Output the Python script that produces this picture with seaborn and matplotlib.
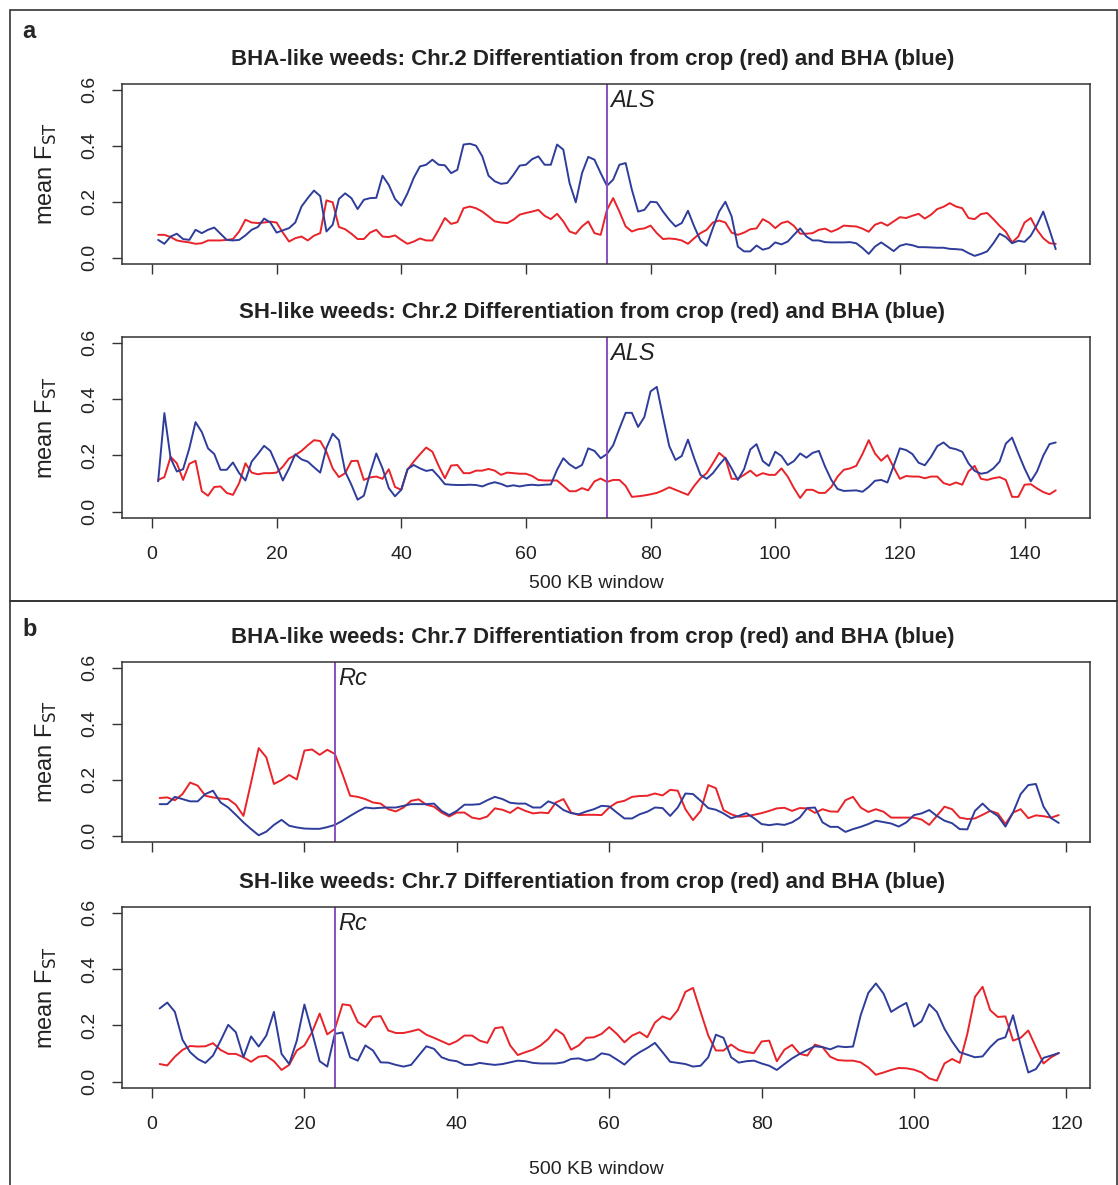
import matplotlib
matplotlib.use('Agg')
import matplotlib.pyplot as plt
import seaborn as sns
from matplotlib.patches import Rectangle

# ---- data ----
chr2_window = list(range(1, 146))
chr7_window = list(range(1, 120))

bha_chr2_red = [0.082, 0.082, 0.074, 0.062, 0.058, 0.055, 0.05, 0.052, 0.062, 0.062,
                0.062, 0.064, 0.067, 0.094, 0.136, 0.126, 0.124, 0.126, 0.129, 0.126,
                0.09, 0.058, 0.07, 0.076, 0.062, 0.079, 0.088, 0.205, 0.198, 0.11,
                0.102, 0.086, 0.067, 0.067, 0.09, 0.1, 0.076, 0.074, 0.08, 0.064,
                0.05, 0.058, 0.069, 0.062, 0.062, 0.1, 0.142, 0.121, 0.127,
                0.177, 0.183, 0.177, 0.165, 0.148, 0.13, 0.126, 0.124, 0.136, 0.154,
                0.16, 0.165, 0.171, 0.15, 0.138, 0.157, 0.13, 0.094, 0.086, 0.112,
                0.13, 0.088, 0.082, 0.171, 0.213, 0.165, 0.112, 0.094, 0.102, 0.105,
                0.115, 0.088, 0.067, 0.069, 0.067, 0.062, 0.05, 0.07, 0.088, 0.1,
                0.126, 0.133, 0.126, 0.09, 0.082, 0.09, 0.102, 0.105, 0.138, 0.126,
                0.106, 0.124, 0.13, 0.114, 0.086, 0.086, 0.088, 0.1, 0.104, 0.093,
                0.102, 0.115, 0.113, 0.112, 0.104, 0.093, 0.118, 0.126, 0.115, 0.13,
                0.145, 0.142, 0.15, 0.157, 0.14, 0.154, 0.174, 0.182, 0.195, 0.183,
                0.177, 0.142, 0.138, 0.156, 0.16, 0.138, 0.114, 0.093, 0.055, 0.076,
                0.126, 0.142, 0.1, 0.07, 0.052, 0.05]
bha_chr2_blue = [0.064, 0.05, 0.076, 0.086, 0.067, 0.064, 0.1, 0.088, 0.1, 0.108,
                 0.086, 0.064, 0.062, 0.064, 0.08, 0.1, 0.11, 0.14, 0.126, 0.09,
                 0.098, 0.106, 0.126, 0.183, 0.213, 0.24, 0.22, 0.094, 0.118, 0.21,
                 0.23, 0.213, 0.174, 0.207, 0.213, 0.214, 0.293, 0.26, 0.21, 0.186,
                 0.23, 0.285, 0.326, 0.332, 0.35, 0.332, 0.33, 0.302, 0.314,
                 0.404, 0.407, 0.4, 0.362, 0.293, 0.273, 0.264, 0.267, 0.296, 0.329,
                 0.332, 0.352, 0.362, 0.332, 0.332, 0.404, 0.386, 0.267, 0.198, 0.302,
                 0.36, 0.35, 0.302, 0.257, 0.279, 0.332, 0.338, 0.243, 0.165, 0.171,
                 0.2, 0.198, 0.165, 0.136, 0.112, 0.124, 0.168, 0.112, 0.062, 0.043,
                 0.106, 0.165, 0.2, 0.148, 0.04, 0.023, 0.023, 0.044, 0.029, 0.035,
                 0.055, 0.048, 0.058, 0.082, 0.105, 0.076, 0.062, 0.062, 0.056, 0.055,
                 0.055, 0.055, 0.056, 0.052, 0.035, 0.014, 0.04, 0.055, 0.04, 0.024,
                 0.043, 0.049, 0.045, 0.038, 0.038, 0.037, 0.036, 0.036, 0.032, 0.031,
                 0.029, 0.017, 0.007, 0.014, 0.023, 0.052, 0.086, 0.074, 0.052, 0.061,
                 0.057, 0.079, 0.118, 0.165, 0.1, 0.031]

sh_chr2_red = [0.113, 0.123, 0.195, 0.172, 0.113, 0.17, 0.181, 0.073, 0.057, 0.088,
               0.09, 0.067, 0.06, 0.102, 0.172, 0.139, 0.133, 0.137, 0.137, 0.139,
               0.16, 0.189, 0.201, 0.216, 0.236, 0.254, 0.251, 0.213, 0.154, 0.123,
               0.137, 0.18, 0.181, 0.113, 0.122, 0.125, 0.117, 0.151, 0.088, 0.078,
               0.149, 0.178, 0.204, 0.228, 0.213, 0.163, 0.119, 0.164, 0.166,
               0.137, 0.137, 0.146, 0.146, 0.152, 0.146, 0.131, 0.139, 0.137, 0.135,
               0.135, 0.127, 0.113, 0.111, 0.111, 0.111, 0.092, 0.073, 0.073, 0.084,
               0.076, 0.108, 0.118, 0.106, 0.113, 0.113, 0.092, 0.053, 0.055, 0.058,
               0.062, 0.067, 0.076, 0.087, 0.078, 0.069, 0.06, 0.092, 0.119, 0.137,
               0.172, 0.209, 0.19, 0.117, 0.117, 0.131, 0.146, 0.127, 0.137, 0.131,
               0.131, 0.154, 0.125, 0.084, 0.049, 0.078, 0.078, 0.067, 0.067, 0.088,
               0.125, 0.149, 0.154, 0.163, 0.205, 0.254, 0.207, 0.181, 0.201, 0.158,
               0.117, 0.127, 0.125, 0.125, 0.119, 0.125, 0.125, 0.102, 0.095, 0.104,
               0.096, 0.143, 0.163, 0.117, 0.113, 0.119, 0.123, 0.113, 0.053, 0.053,
               0.096, 0.098, 0.083, 0.07, 0.062, 0.076]
sh_chr2_blue = [0.108, 0.35, 0.19, 0.143, 0.151, 0.225, 0.318, 0.283, 0.225, 0.205,
                0.149, 0.149, 0.175, 0.137, 0.111, 0.178, 0.205, 0.234, 0.216, 0.166,
                0.111, 0.154, 0.204, 0.186, 0.178, 0.158, 0.139, 0.227, 0.277, 0.254,
                0.143, 0.096, 0.043, 0.057, 0.137, 0.207, 0.154, 0.084, 0.055, 0.078,
                0.151, 0.166, 0.154, 0.145, 0.149, 0.125, 0.098, 0.096, 0.095,
                0.095, 0.096, 0.095, 0.09, 0.099, 0.105, 0.099, 0.09, 0.094, 0.09,
                0.094, 0.096, 0.094, 0.096, 0.097, 0.149, 0.19, 0.168, 0.154, 0.166,
                0.225, 0.216, 0.19, 0.205, 0.236, 0.295, 0.351, 0.351, 0.301, 0.336,
                0.427, 0.443, 0.336, 0.233, 0.184, 0.198, 0.256, 0.19, 0.131, 0.117,
                0.137, 0.166, 0.192, 0.154, 0.113, 0.151, 0.221, 0.24, 0.18, 0.163,
                0.213, 0.198, 0.166, 0.18, 0.207, 0.192, 0.209, 0.216, 0.16, 0.113,
                0.081, 0.074, 0.075, 0.076, 0.071, 0.088, 0.11, 0.113, 0.104, 0.163,
                0.225, 0.219, 0.205, 0.174, 0.165, 0.195, 0.233, 0.246, 0.227, 0.222,
                0.213, 0.172, 0.145, 0.135, 0.139, 0.154, 0.178, 0.242, 0.263, 0.207,
                0.154, 0.108, 0.143, 0.199, 0.24, 0.246]

bha_chr7_red = [0.135, 0.137, 0.127, 0.149, 0.19, 0.179, 0.143, 0.137, 0.133, 0.131,
                0.111, 0.071, 0.19, 0.313, 0.28, 0.185, 0.199, 0.217, 0.201, 0.304,
                0.308, 0.289, 0.307, 0.292, 0.22, 0.143, 0.139, 0.131, 0.119, 0.115,
                0.095, 0.087, 0.101, 0.125, 0.13, 0.111, 0.104, 0.083, 0.069, 0.083,
                0.083, 0.065, 0.06, 0.069, 0.098, 0.093, 0.082, 0.101, 0.089, 0.08,
                0.083, 0.081, 0.119, 0.131, 0.083, 0.074, 0.075, 0.075, 0.074, 0.101,
                0.119, 0.125, 0.139, 0.142, 0.143, 0.151, 0.144, 0.164, 0.161, 0.095,
                0.056, 0.089, 0.181, 0.17, 0.092, 0.077, 0.068, 0.07, 0.075, 0.081, 0.089,
                0.098, 0.1, 0.089, 0.099, 0.098, 0.082, 0.095, 0.087, 0.086, 0.127,
                0.139, 0.101, 0.085, 0.095, 0.086, 0.065, 0.065, 0.065, 0.065, 0.058,
                0.039, 0.071, 0.104, 0.095, 0.065, 0.06, 0.062, 0.075, 0.089, 0.08,
                0.042, 0.083, 0.095, 0.063, 0.073, 0.07, 0.065, 0.074]
bha_chr7_blue = [0.113, 0.113, 0.139, 0.131, 0.123, 0.123, 0.149, 0.161, 0.119, 0.101,
                 0.075, 0.048, 0.024, 0.002, 0.015, 0.039, 0.057, 0.036, 0.03, 0.026,
                 0.025, 0.025, 0.031, 0.039, 0.054, 0.071, 0.087, 0.101, 0.098, 0.1,
                 0.101, 0.101, 0.107, 0.113, 0.113, 0.113, 0.115, 0.089, 0.074, 0.089,
                 0.111, 0.111, 0.113, 0.127, 0.139, 0.131, 0.118, 0.115, 0.115, 0.101,
                 0.101, 0.123, 0.113, 0.092, 0.081, 0.077, 0.087, 0.095, 0.107, 0.105,
                 0.083, 0.062, 0.062, 0.077, 0.086, 0.101, 0.099, 0.071, 0.101, 0.151,
                 0.149, 0.125, 0.099, 0.093, 0.08, 0.063, 0.071, 0.081, 0.063, 0.042, 0.038,
                 0.042, 0.039, 0.048, 0.065, 0.099, 0.101, 0.048, 0.032, 0.032, 0.014,
                 0.024, 0.032, 0.042, 0.054, 0.049, 0.044, 0.033, 0.048, 0.074, 0.08,
                 0.092, 0.071, 0.054, 0.045, 0.024, 0.023, 0.089, 0.115, 0.089, 0.071,
                 0.033, 0.083, 0.149, 0.181, 0.185, 0.104, 0.063, 0.046]

sh_chr7_red = [0.063, 0.058, 0.089, 0.113, 0.127, 0.125, 0.126, 0.137, 0.113, 0.099,
               0.099, 0.087, 0.071, 0.089, 0.092, 0.073, 0.042, 0.06, 0.111, 0.129,
               0.176, 0.242, 0.168, 0.188, 0.275, 0.271, 0.212, 0.194, 0.23, 0.233,
               0.182, 0.173, 0.173, 0.179, 0.186, 0.167, 0.156, 0.144, 0.132, 0.144,
               0.164, 0.164, 0.146, 0.138, 0.19, 0.194, 0.129, 0.095, 0.105, 0.114,
               0.129, 0.152, 0.186, 0.167, 0.114, 0.129, 0.156, 0.158, 0.17, 0.194,
               0.17, 0.14, 0.164, 0.176, 0.158, 0.21, 0.232, 0.221, 0.254, 0.319,
               0.333, 0.248, 0.164, 0.111, 0.111, 0.132, 0.113, 0.105, 0.102, 0.143, 0.146,
               0.073, 0.114, 0.131, 0.099, 0.093, 0.132, 0.123, 0.089, 0.077, 0.075,
               0.075, 0.069, 0.051, 0.025, 0.033, 0.042, 0.049, 0.048, 0.043, 0.033,
               0.012, 0.004, 0.065, 0.081, 0.067, 0.17, 0.301, 0.337, 0.254, 0.23,
               0.232, 0.146, 0.156, 0.182, 0.123, 0.065, 0.087, 0.102]
sh_chr7_blue = [0.26, 0.281, 0.248, 0.149, 0.105, 0.081, 0.067, 0.093, 0.146, 0.202,
                0.176, 0.087, 0.161, 0.125, 0.164, 0.248, 0.099, 0.063, 0.146, 0.274,
                0.176, 0.073, 0.054, 0.17, 0.175, 0.087, 0.075, 0.129, 0.111, 0.069,
                0.068, 0.06, 0.054, 0.06, 0.093, 0.126, 0.117, 0.087, 0.077, 0.073,
                0.06, 0.06, 0.067, 0.063, 0.06, 0.063, 0.069, 0.075, 0.073, 0.067,
                0.065, 0.065, 0.065, 0.069, 0.081, 0.083, 0.075, 0.081, 0.101, 0.096,
                0.079, 0.061, 0.087, 0.105, 0.12, 0.138, 0.105, 0.071, 0.067, 0.063,
                0.054, 0.057, 0.087, 0.167, 0.156, 0.087, 0.068, 0.073, 0.075, 0.065, 0.057,
                0.042, 0.063, 0.083, 0.099, 0.113, 0.126, 0.123, 0.115, 0.126, 0.123,
                0.125, 0.236, 0.315, 0.349, 0.313, 0.248, 0.265, 0.28, 0.196, 0.215,
                0.275, 0.248, 0.188, 0.143, 0.105, 0.096, 0.087, 0.09, 0.123, 0.149,
                0.158, 0.236, 0.129, 0.033, 0.045, 0.085, 0.093, 0.102]

chr2_ticks = [0, 20, 40, 60, 80, 100, 120, 140]
chr7_ticks = [0, 20, 40, 60, 80, 100, 120]
y_ticks = [0.0, 0.2, 0.4, 0.6]
y_ticklabels = ['0.0', '0.2', '0.4', '0.6']

titles = ['BHA-like weeds: Chr.2 Differentiation from crop (red) and BHA (blue)',
          'SH-like weeds: Chr.2 Differentiation from crop (red) and BHA (blue)',
          'BHA-like weeds: Chr.7 Differentiation from crop (red) and BHA (blue)',
          'SH-like weeds: Chr.7 Differentiation from crop (red) and BHA (blue)']

RED = '#e8232a'
BLUE = '#2f3d9a'
PURPLE = '#8a4fc0'

sns.set_style('white')
plt.rcParams['font.family'] = ['Liberation Sans', 'DejaVu Sans']

W, H = 1118, 1185
fig = plt.figure(figsize=(W / 100, H / 100), dpi=100)


def px_axes(left, top, right, bottom):
    return fig.add_axes([left / W, 1 - bottom / H, (right - left) / W, (bottom - top) / H])


def draw_panel(ax, x, red, blue, gene, gene_x, title, xticks, xlim, show_xlabels, xlabel_pad):
    sns.lineplot(x=x, y=red, ax=ax, color=RED, lw=1.4)
    sns.lineplot(x=x, y=blue, ax=ax, color=BLUE, lw=1.4)
    ax.axvline(gene_x, color=PURPLE, lw=1.4)
    ax.text(gene_x + (xlim[1] - xlim[0]) * 0.003, 0.603, gene, style='italic', fontsize=17,
            va='top', ha='left', color='#222222')
    ax.set_xlim(*xlim)
    ax.set_ylim(-0.022, 0.62)
    ax.set_xticks(xticks)
    ax.set_yticks(y_ticks)
    ax.set_yticklabels(y_ticklabels, rotation=90, va='center')
    ax.tick_params(axis='both', direction='out', length=7, width=1, colors='#333333',
                   labelsize=14, labelcolor='#222222', left=True, bottom=True)
    ax.tick_params(axis='x', pad=13)
    ax.tick_params(axis='y', pad=10)
    if not show_xlabels:
        ax.set_xticklabels([])
        ax.set_xlabel('')
    else:
        ax.set_xlabel('500 KB window', fontsize=14, labelpad=xlabel_pad, color='#222222')
        ax.xaxis.label.set_x(0.49)
    ax.set_ylabel(r'mean F$_{\mathrm{ST}}$', fontsize=17, labelpad=16, color='#222222')
    ax.set_title(title, fontsize=16, fontweight='bold', x=0.486, pad=14, color='#222222')
    for sp in ax.spines.values():
        sp.set_color('#333333')
        sp.set_linewidth(1.1)


ax1 = px_axes(122, 84, 1090, 264)
draw_panel(ax1, chr2_window, bha_chr2_red, bha_chr2_blue, 'ALS', 73, titles[0],
           chr2_ticks, (-4.8, 150.5), False, 0)
ax2 = px_axes(122, 337, 1090, 518)
draw_panel(ax2, chr2_window, sh_chr2_red, sh_chr2_blue, 'ALS', 73, titles[1],
           chr2_ticks, (-4.8, 150.5), True, 9)
ax3 = px_axes(122, 662, 1090, 842)
draw_panel(ax3, chr7_window, bha_chr7_red, bha_chr7_blue, 'Rc', 24, titles[2],
           chr7_ticks, (-3.94, 123.1), False, 0)
ax4 = px_axes(122, 907, 1090, 1088)
draw_panel(ax4, chr7_window, sh_chr7_red, sh_chr7_blue, 'Rc', 24, titles[3],
           chr7_ticks, (-3.94, 123.1), True, 20)

# outer frames and panel letters
fig.add_artist(Rectangle((10 / W, 1 - 601 / H), (W - 11) / W, 591 / H,
                         transform=fig.transFigure, fill=False, lw=1.2, ec='#333333'))
fig.add_artist(Rectangle((10 / W, -0.01), (W - 11) / W, 1 - 601 / H + 0.01,
                         transform=fig.transFigure, fill=False, lw=1.2, ec='#333333'))
fig.text(22 / W, 1 - 31 / H, 'a', fontsize=17, fontweight='bold', va='center', ha='left')
fig.text(22 / W, 1 - 629 / H, 'b', fontsize=17, fontweight='bold', va='center', ha='left')

fig.savefig('out.png', dpi=100)
